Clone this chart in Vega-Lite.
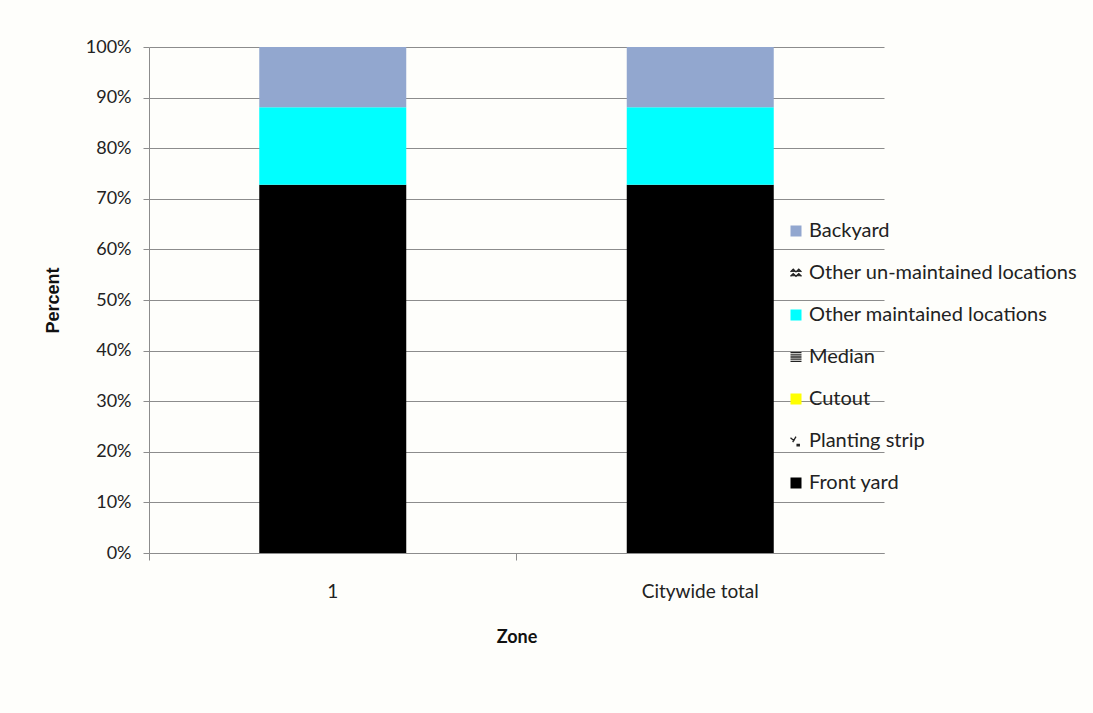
{
  "$schema": "https://vega.github.io/schema/vega-lite/v6.json",
  "width": 735,
  "height": 506,
  "autosize": "none",
  "padding": {"left": 149, "top": 47, "right": 209, "bottom": 160},
  "background": "#fefefb",
  "config": {
    "view": {"stroke": null},
    "font": "Lato"
  },
  "data": {
    "values": [
      {"Zone": "1", "Location": "Front yard", "Percent": 72.8},
      {"Zone": "1", "Location": "Planting strip", "Percent": 0},
      {"Zone": "1", "Location": "Cutout", "Percent": 0},
      {"Zone": "1", "Location": "Median", "Percent": 0},
      {"Zone": "1", "Location": "Other maintained locations", "Percent": 15.3},
      {"Zone": "1", "Location": "Other un-maintained locations", "Percent": 0},
      {"Zone": "1", "Location": "Backyard", "Percent": 11.9},
      {"Zone": "Citywide total", "Location": "Front yard", "Percent": 72.8},
      {"Zone": "Citywide total", "Location": "Planting strip", "Percent": 0},
      {"Zone": "Citywide total", "Location": "Cutout", "Percent": 0},
      {"Zone": "Citywide total", "Location": "Median", "Percent": 0},
      {"Zone": "Citywide total", "Location": "Other maintained locations", "Percent": 15.3},
      {"Zone": "Citywide total", "Location": "Other un-maintained locations", "Percent": 0},
      {"Zone": "Citywide total", "Location": "Backyard", "Percent": 11.9}
    ]
  },
  "mark": {"type": "bar"},
  "encoding": {
    "x": {
      "field": "Zone",
      "type": "nominal",
      "scale": {"paddingInner": 0.6, "paddingOuter": 0.3},
      "axis": {
        "labelAngle": 0,
        "labelFontSize": 19,
        "labelColor": "#222222",
        "labelPadding": 22,
        "bandPosition": -0.75,
        "labelDx": 183.75,
        "tickSize": 7,
        "tickColor": "#8c8c8c",
        "domainColor": "#8c8c8c",
        "title": "Zone",
        "titleFontSize": 18,
        "titleFontWeight": "bold",
        "titleColor": "#111111",
        "titlePadding": 27
      }
    },
    "y": {
      "field": "Percent",
      "type": "quantitative",
      "stack": "normalize",
      "scale": {"domain": [0, 1]},
      "axis": {
        "values": [0, 0.1, 0.2, 0.3, 0.4, 0.5, 0.6, 0.7, 0.8, 0.9, 1],
        "format": ".0%",
        "labelFontSize": 18,
        "labelColor": "#222222",
        "labelPadding": 12,
        "tickSize": 6,
        "tickColor": "#8c8c8c",
        "domainColor": "#8c8c8c",
        "grid": true,
        "gridColor": "#8c8c8c",
        "gridWidth": 1,
        "title": "Percent",
        "titleFont": "Liberation Sans",
        "titleFontSize": 18,
        "titleFontWeight": "bold",
        "titleColor": "#111111",
        "titlePadding": 23
      }
    },
    "order": {"field": "Percent", "type": "quantitative", "sort": "descending"},
    "color": {
      "field": "Location",
      "type": "nominal",
      "sort": ["Backyard", "Other un-maintained locations", "Other maintained locations", "Median", "Cutout", "Planting strip", "Front yard"],
      "scale": {
        "range": ["#92a7cf", "#333333", "#00ffff", "#333333", "#ffff00", "#333333", "#000000"]
      },
      "legend": {
        "orient": "none",
        "legendX": 637,
        "legendY": 174,
        "title": null,
        "labelFontSize": 20,
        "labelLimit": 400,
        "labelColor": "#222222",
        "symbolType": "square",
        "symbolSize": 121,
        "symbolStrokeWidth": 0,
        "symbolOpacity": 1,
        "labelOffset": 3,
        "rowPadding": 22,
        "encode": {
          "symbols": {
            "update": {
              "shape": {"signal": "datum.value == 'Median' ? 'M-1,-0.8H1M-1,-0.4H1M-1,0H1M-1,0.4H1M-1,0.8H1' : datum.value == 'Other un-maintained locations' ? 'M-1,-0.2L-0.5,-0.7L0,-0.2L0.5,-0.7L1,-0.2M-1,0.6L-0.5,0.1L0,0.6L0.5,0.1L1,0.6' : datum.value == 'Planting strip' ? 'M-1,-0.6L-0.3,0M0.2,0.6L0.6,0.6L0.6,0.9L0.2,0.9Z M0,-0.8L-0.6,0.2' : 'square'"},
              "stroke": {"signal": "datum.value == 'Median' || datum.value == 'Other un-maintained locations' || datum.value == 'Planting strip' ? '#222222' : null"},
              "strokeWidth": {"value": 1.3},
              "fill": {"signal": "datum.value == 'Median' || datum.value == 'Other un-maintained locations' || datum.value == 'Planting strip' ? 'transparent' : scale('color', datum.value)"}
            }
          }
        }
      }
    }
  }
}
